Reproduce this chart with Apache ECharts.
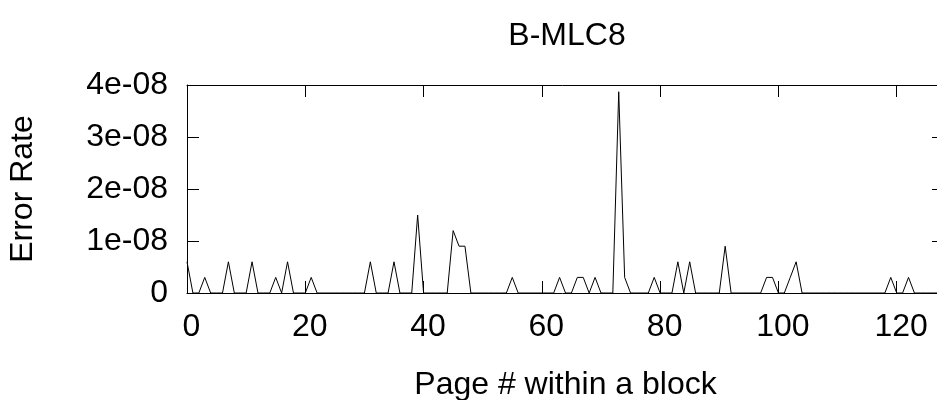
<!DOCTYPE html>
<html>
<head>
<meta charset="utf-8">
<title>B-MLC8</title>
<script src="https://cdn.jsdelivr.net/npm/echarts@6/dist/echarts.min.js"></script>
<style>
html, body { margin: 0; padding: 0; background: #fff; }
#chart { width: 937px; height: 400px; }
</style>
</head>
<body>
<div id="chart"></div>
<script type="text/javascript">
// error rate per page (page # = index, 0..127)
var errorRate = [
    6e-9, 0, 0, 3e-9, 0, 0, 0, 6e-9, 0, 0, 0, 6e-9, 0, 0, 0, 3e-9,
    0, 6e-9, 0, 0, 0, 3e-9, 0, 0, 0, 0, 0, 0, 0, 0, 0, 6e-9,
    0, 0, 0, 6e-9, 0, 0, 0, 1.5e-8, 0, 0, 0, 0, 0, 1.2e-8, 9e-9, 9e-9,
    0, 0, 0, 0, 0, 0, 0, 3e-9, 0, 0, 0, 0, 0, 0, 0, 3e-9,
    0, 0, 3e-9, 3e-9, 0, 3e-9, 0, 0, 0, 3.87e-8, 3e-9, 0, 0, 0, 0, 3e-9,
    0, 0, 0, 6e-9, 0, 6e-9, 0, 0, 0, 0, 0, 9e-9, 0, 0, 0, 0,
    0, 0, 3e-9, 3e-9, 0, 0, 3e-9, 6e-9, 0, 0, 0, 0, 0, 0, 0, 0,
    0, 0, 0, 0, 0, 0, 0, 3e-9, 0, 0, 3e-9, 0, 0, 0, 0, 0
];
var xTicks = [0, 20, 40, 60, 80, 100, 120];
var yTicks = ['0', '1e-08', '2e-08', '3e-08', '4e-08'];

var FONT = 'Liberation Sans';
var FS = 32;

var chart = echarts.init(document.getElementById('chart'));

function yLabel(v) {
    var i = Math.round(v / 1e-8);
    return yTicks[i] || '';
}
function xLabel(v) {
    return xTicks.indexOf(v) >= 0 ? String(v) : '';
}

// frame: four axes, ticks pointing inwards (gnuplot style)
var frameLine = { show: true, onZero: false, lineStyle: { color: '#000', width: 1 } };
var frameTick = { show: true, inside: true, length: 12, lineStyle: { color: '#000' } };

var option = {
    animation: false,
    backgroundColor: '#fff',
    title: {
        text: 'B-MLC8',
        left: 562,
        top: 15,
        textAlign: 'center',
        textStyle: { fontFamily: FONT, fontSize: FS, fontWeight: 'normal', color: '#000' }
    },
    // right border lies just past the canvas edge, as in the original
    grid: { left: 187, top: 85, width: 757, height: 208, outerBoundsMode: 'none' },
    xAxis: [
        {
            type: 'value', min: 0, max: 128, interval: 20,
            name: 'Page # within a block', nameLocation: 'middle', nameGap: 76,
            nameTextStyle: { fontFamily: FONT, fontSize: FS, color: '#000' },
            axisLine: frameLine,
            axisTick: frameTick,
            axisLabel: { formatter: xLabel, showMaxLabel: false, margin: 18,
                padding: [0, 0, 0, 9],
                fontFamily: FONT, fontSize: FS, color: '#000' },
            splitLine: { show: false }
        },
        {
            type: 'value', min: 0, max: 128, interval: 20, position: 'top',
            axisLine: frameLine,
            axisTick: frameTick,
            axisLabel: { show: false },
            splitLine: { show: false }
        }
    ],
    yAxis: [
        {
            type: 'value', min: 0, max: 4e-8, interval: 1e-8,
            name: 'Error Rate', nameLocation: 'middle', nameGap: 148,
            nameTextStyle: { fontFamily: FONT, fontSize: FS, color: '#000' },
            axisLine: frameLine,
            axisTick: frameTick,
            axisLabel: { formatter: yLabel, margin: 19, fontFamily: FONT, fontSize: FS, color: '#000' },
            splitLine: { show: false }
        },
        {
            type: 'value', min: 0, max: 4e-8, interval: 1e-8, position: 'right',
            axisLine: frameLine,
            axisTick: frameTick,
            axisLabel: { show: false },
            splitLine: { show: false }
        }
    ],
    series: [
        {
            type: 'line',
            xAxisIndex: 0,
            yAxisIndex: 0,
            data: errorRate.map(function (v, i) { return [i, v]; }),
            showSymbol: false,
            symbol: 'none',
            lineStyle: { color: '#000', width: 1 },
            silent: true
        }
    ]
};
chart.setOption(option);
</script>
</body>
</html>
